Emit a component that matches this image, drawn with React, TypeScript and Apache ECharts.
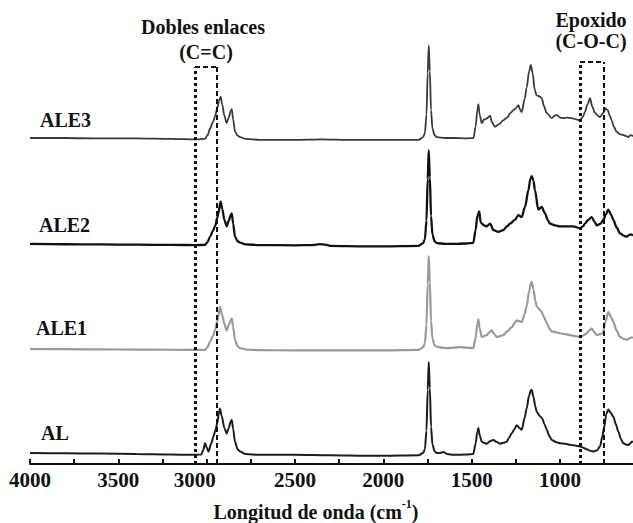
import React, { useEffect, useRef } from "react";
import * as echarts from "echarts";

// x positions (cm-1) of axis labels and ticks
const xLabels = [4000, 3500, 3000, 2500, 2000, 1500, 1000];
const xTicks = [4000, 3750, 3500, 3250, 3000, 2750, 2500, 2250, 2000, 1750, 1500, 1250, 1000, 750];

const seriesNames = ["ALE3", "ALE2", "ALE1", "AL"];
// vertical offsets of the stacked spectra (absorbance units)
const offsets = [3.513, 2.371, 1.239, 0.1185];

// [wavenumber, relative absorbance]
const ALE3: [number, number][] = [
  [4000, 0.0], [3800, 0.0], [3600, -0.005], [3400, -0.005], [3200, -0.01], [3060, -0.015], [3010, -0.01],
  [2995, 0.03], [2981, 0.1], [2965, 0.17], [2953, 0.23], [2940, 0.32], [2930, 0.4], [2921, 0.445], [2912, 0.36],
  [2900, 0.24], [2887, 0.16], [2875, 0.22], [2864, 0.29], [2858, 0.31], [2850, 0.2], [2840, 0.07], [2825, 0.025],
  [2811, 0.01], [2780, -0.01], [2700, -0.02], [2500, -0.02], [2350, -0.015], [2200, -0.02], [2000, -0.02],
  [1800, -0.02], [1775, 0.01], [1765, 0.05], [1756, 0.25], [1749, 0.7], [1743, 1.0], [1737, 0.72], [1730, 0.3],
  [1722, 0.1], [1710, 0.03], [1698, 0.01], [1650, 0.0], [1600, 0.0], [1530, -0.005], [1490, 0.0], [1478, 0.12],
  [1468, 0.3], [1462, 0.365], [1455, 0.25], [1443, 0.16], [1430, 0.2], [1415, 0.21], [1396, 0.24], [1385, 0.17],
  [1368, 0.12], [1345, 0.15], [1321, 0.19], [1300, 0.22], [1280, 0.27], [1264, 0.3], [1250, 0.32], [1236, 0.355],
  [1225, 0.3], [1217, 0.28], [1200, 0.42], [1189, 0.54], [1175, 0.72], [1165, 0.787], [1155, 0.7], [1143, 0.52],
  [1133, 0.46], [1118, 0.45], [1104, 0.43], [1090, 0.34], [1076, 0.27], [1047, 0.215], [1030, 0.24], [1019, 0.25],
  [1000, 0.22], [981, 0.215], [960, 0.22], [934, 0.215], [910, 0.2], [887, 0.19], [870, 0.23], [859, 0.28],
  [845, 0.36], [830, 0.43], [818, 0.34], [802, 0.27], [787, 0.24], [774, 0.226], [755, 0.27], [742, 0.32],
  [730, 0.3], [718, 0.24], [708, 0.19], [695, 0.12], [679, 0.065], [660, 0.04], [642, 0.032], [625, 0.02],
  [614, 0.01], [600, 0.03], [587, 0.02],
];

const ALE2: [number, number][] = [
  [4000, 0.0], [3800, -0.003], [3600, -0.005], [3400, -0.008], [3200, -0.01], [3060, -0.012], [3010, -0.01],
  [2995, 0.02], [2981, 0.08], [2965, 0.14], [2953, 0.19], [2940, 0.28], [2934, 0.33], [2921, 0.456], [2912, 0.38],
  [2900, 0.26], [2887, 0.19], [2875, 0.25], [2864, 0.31], [2858, 0.33], [2850, 0.22], [2840, 0.08], [2825, 0.03],
  [2811, 0.014], [2780, -0.005], [2700, -0.012], [2500, -0.015], [2400, -0.012], [2360, -0.002], [2330, -0.006],
  [2300, -0.02], [2100, -0.025], [2000, -0.025], [1800, -0.02], [1775, 0.01], [1765, 0.05], [1756, 0.25],
  [1749, 0.7], [1743, 1.01], [1737, 0.72], [1730, 0.3], [1722, 0.1], [1710, 0.03], [1698, 0.01], [1650, 0.0],
  [1600, 0.0], [1530, 0.005], [1491, 0.012], [1478, 0.15], [1468, 0.3], [1457, 0.35], [1450, 0.24], [1443, 0.22],
  [1430, 0.2], [1415, 0.19], [1396, 0.22], [1377, 0.15], [1349, 0.13], [1321, 0.15], [1300, 0.19], [1283, 0.22],
  [1255, 0.26], [1236, 0.31], [1217, 0.29], [1198, 0.4], [1179, 0.58], [1168, 0.7], [1160, 0.73], [1150, 0.68],
  [1142, 0.58], [1123, 0.37], [1104, 0.4], [1085, 0.33], [1070, 0.26], [1057, 0.22], [1028, 0.2], [1000, 0.19],
  [981, 0.19], [950, 0.19], [925, 0.19], [887, 0.17], [870, 0.19], [859, 0.22], [840, 0.26], [821, 0.29],
  [805, 0.24], [792, 0.2], [770, 0.22], [755, 0.26], [740, 0.32], [727, 0.37], [712, 0.32], [698, 0.26],
  [680, 0.18], [661, 0.115], [640, 0.09], [623, 0.08], [605, 0.1], [594, 0.1], [587, 0.09],
];

const ALE1: [number, number][] = [
  [4000, 0.0], [3800, -0.002], [3600, -0.004], [3400, -0.006], [3200, -0.008], [3060, -0.01], [3010, -0.01],
  [2995, 0.02], [2981, 0.08], [2965, 0.14], [2953, 0.2], [2940, 0.3], [2934, 0.35], [2925, 0.455], [2912, 0.37],
  [2900, 0.27], [2887, 0.2], [2875, 0.26], [2864, 0.31], [2858, 0.33], [2850, 0.24], [2840, 0.1], [2825, 0.03],
  [2811, 0.01], [2780, -0.005], [2700, -0.012], [2500, -0.015], [2300, -0.015], [2000, -0.015], [1800, -0.01],
  [1775, 0.02], [1765, 0.06], [1756, 0.26], [1749, 0.7], [1743, 1.0], [1737, 0.72], [1730, 0.3], [1722, 0.11],
  [1710, 0.04], [1698, 0.025], [1670, 0.015], [1640, 0.01], [1600, 0.015], [1566, 0.02], [1530, 0.015],
  [1491, 0.01], [1478, 0.12], [1468, 0.27], [1462, 0.32], [1455, 0.22], [1443, 0.13], [1430, 0.14], [1415, 0.15],
  [1400, 0.18], [1387, 0.2], [1372, 0.16], [1358, 0.13], [1340, 0.14], [1321, 0.15], [1300, 0.19], [1274, 0.23],
  [1260, 0.27], [1245, 0.31], [1230, 0.3], [1217, 0.29], [1200, 0.38], [1189, 0.46], [1175, 0.62], [1165, 0.71],
  [1160, 0.725], [1150, 0.64], [1140, 0.52], [1132, 0.46], [1118, 0.43], [1104, 0.4], [1090, 0.34], [1075, 0.28],
  [1060, 0.22], [1047, 0.19], [1020, 0.18], [1000, 0.17], [970, 0.16], [943, 0.15], [915, 0.14], [887, 0.13],
  [865, 0.15], [849, 0.17], [835, 0.2], [821, 0.22], [805, 0.18], [792, 0.15], [775, 0.16], [758, 0.17],
  [742, 0.3], [727, 0.4], [712, 0.35], [698, 0.29], [680, 0.2], [661, 0.13], [640, 0.11], [623, 0.1],
  [605, 0.115], [594, 0.125], [587, 0.12],
];

const AL: [number, number][] = [
  [4000, 0.0], [3800, -0.003], [3600, -0.006], [3400, -0.01], [3200, -0.015], [3060, -0.02], [3030, -0.015],
  [3020, 0.03], [3009, 0.105], [3000, 0.06], [2990, 0.015], [2975, 0.1], [2962, 0.175], [2950, 0.25], [2940, 0.32],
  [2932, 0.42], [2925, 0.48], [2915, 0.4], [2900, 0.27], [2887, 0.21], [2875, 0.27], [2864, 0.34], [2858, 0.355],
  [2850, 0.26], [2840, 0.12], [2825, 0.04], [2811, 0.015], [2780, -0.01], [2700, -0.02], [2500, -0.02],
  [2300, -0.025], [2100, -0.03], [2000, -0.03], [1800, -0.025], [1775, 0.0], [1765, 0.04], [1756, 0.24],
  [1749, 0.68], [1743, 0.98], [1737, 0.7], [1730, 0.28], [1722, 0.09], [1710, 0.02], [1698, 0.0], [1680, 0.0],
  [1660, 0.01], [1640, -0.01], [1600, -0.02], [1530, -0.015], [1491, -0.01], [1478, 0.1], [1468, 0.23],
  [1462, 0.27], [1455, 0.19], [1443, 0.12], [1430, 0.11], [1415, 0.1], [1395, 0.13], [1377, 0.14], [1360, 0.12],
  [1340, 0.1], [1320, 0.11], [1302, 0.12], [1290, 0.16], [1274, 0.21], [1260, 0.25], [1245, 0.3], [1230, 0.27],
  [1217, 0.25], [1200, 0.38], [1189, 0.48], [1175, 0.62], [1165, 0.68], [1160, 0.68], [1150, 0.6], [1140, 0.5],
  [1132, 0.445], [1115, 0.4], [1100, 0.37], [1088, 0.31], [1075, 0.25], [1060, 0.18], [1047, 0.14], [1020, 0.115],
  [1000, 0.105], [970, 0.1], [943, 0.09], [915, 0.08], [887, 0.07], [865, 0.055], [849, 0.04], [830, 0.025],
  [811, 0.015], [790, 0.03], [774, 0.07], [760, 0.18], [751, 0.27], [738, 0.42], [727, 0.47], [712, 0.43],
  [698, 0.39], [684, 0.31], [670, 0.23], [655, 0.15], [642, 0.105], [625, 0.09], [613, 0.086], [600, 0.11],
  [594, 0.12], [587, 0.12],
];

const spectra = [ALE3, ALE2, ALE1, AL];
const lineColors = ["#3a3a3a", "#111111", "#9a9a9a", "#1c1c1c"];
const lineWidths = [1.8, 2.3, 2.2, 2.0];

// highlighted bands (cm-1) and top of boxes (absorbance units)
const dobleBand = [3066, 2944];
const dobleTop = 4.278;
const epoxBand = [887, 755];
const epoxTop = 4.332;

const FONT = "Liberation Serif";

export default function App() {
  const ref = useRef<HTMLDivElement>(null);
  useEffect(() => {
    if (!ref.current) return;
    const chart = echarts.init(ref.current, undefined, { renderer: "svg" });

    const thick = { color: "#111", width: 3, type: [3, 3] as any };
    const thin = { color: "#111", width: 2, type: [5, 3] as any };
    const boxLines = [
      [{ coord: [dobleBand[0], 0], lineStyle: thick }, { coord: [dobleBand[0], dobleTop] }],
      [{ coord: [dobleBand[1], 0], lineStyle: thin }, { coord: [dobleBand[1], dobleTop] }],
      [{ coord: [dobleBand[0], dobleTop], lineStyle: thin }, { coord: [dobleBand[1], dobleTop] }],
      [{ coord: [epoxBand[0], 0], lineStyle: thick }, { coord: [epoxBand[0], epoxTop] }],
      [{ coord: [epoxBand[1], 0], lineStyle: thin }, { coord: [epoxBand[1], epoxTop] }],
      [{ coord: [epoxBand[0], epoxTop], lineStyle: thin }, { coord: [epoxBand[1], epoxTop] }],
    ];

    const series: any[] = spectra.map((pts, i) => ({
      type: "line",
      name: seriesNames[i],
      data: pts.map(([w, a]) => [w, a + offsets[i]]),
      showSymbol: false,
      smooth: 0.3,
      smoothMonotone: "x",
      lineStyle: { color: lineColors[i], width: lineWidths[i] },
      z: 3,
    }));
    series.push({
      type: "line",
      data: [],
      markLine: {
        silent: true,
        symbol: "none",
        label: { show: false },
        lineStyle: { color: "#111" },
        data: boxLines,
      },
      z: 4,
    });

    const labelPos = [
      { x: 40, y: 120 },
      { x: 39, y: 225 },
      { x: 36, y: 328 },
      { x: 41, y: 433 },
    ];
    const txt = (text: string, x: number, y: number, align = "center") => ({
      type: "text",
      x,
      y,
      style: {
        text,
        fill: "#111",
        fontFamily: FONT,
        fontWeight: "bold",
        fontSize: 20,
        textAlign: align,
        textVerticalAlign: "middle",
      },
      z: 10,
    });

    chart.setOption({
      animation: false,
      backgroundColor: "#fff",
      grid: { left: 30, right: 0, top: 0, bottom: 59, containLabel: false },
      xAxis: {
        type: "value",
        inverse: true,
        min: 587,
        max: 4000,
        axisLine: { show: true, onZero: false, lineStyle: { color: "#111", width: 2 } },
        axisTick: { show: true, inside: true, length: 5, customValues: xTicks, lineStyle: { color: "#111", width: 2 } },
        axisLabel: {
          customValues: xLabels,
          margin: 5,
          color: "#111",
          fontFamily: FONT,
          fontWeight: "bold",
          fontSize: 21,
          formatter: (v: number) => (v === 3000 ? "{s|3000}" : String(v)),
          rich: {
            s: { fontFamily: FONT, fontWeight: "bold", fontSize: 21, color: "#111", padding: [0, 24, 0, 0] },
          },
        },
        splitLine: { show: false },
      },
      yAxis: { type: "value", min: 0, max: 5, show: false },
      series,
      graphic: [
        ...seriesNames.map((n, i) => txt(n, labelPos[i].x, labelPos[i].y, "left")),
        txt("Dobles enlaces", 203, 27),
        txt("(C=C)", 206, 52),
        txt("Epoxido", 591, 20),
        txt("(C-O-C)", 591, 41),
        {
          type: "text",
          x: 316,
          y: 510,
          style: {
            text: "{b|Longitud de onda (cm}{s|-1}{b|)}",
            textAlign: "center",
            textVerticalAlign: "middle",
            fill: "#111",
            rich: {
              b: { fontFamily: FONT, fontWeight: "bold", fontSize: 20, lineHeight: 24, verticalAlign: "bottom", fill: "#111" },
              s: { fontFamily: FONT, fontWeight: "bold", fontSize: 12, lineHeight: 24, verticalAlign: "top", fill: "#111" },
            },
          },
          z: 10,
        },
      ],
    });
    return () => chart.dispose();
  }, []);
  return (
    <div
      ref={ref}
      style={{ position: "fixed", left: 0, top: 0, width: 633, height: 523, background: "#fff" }}
    />
  );
}
